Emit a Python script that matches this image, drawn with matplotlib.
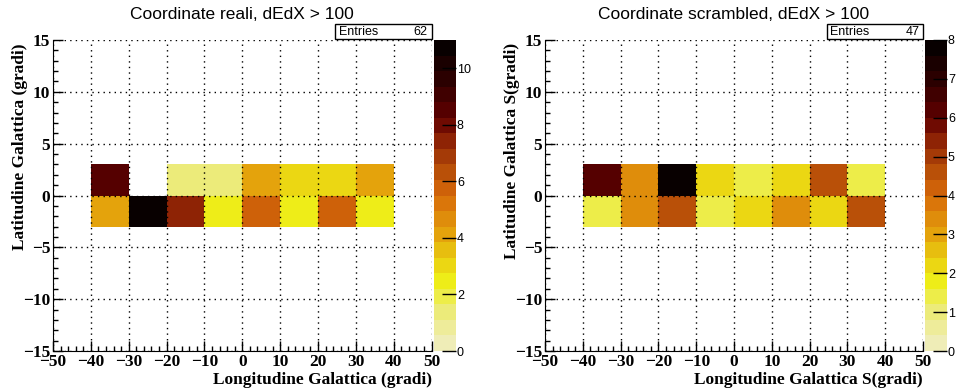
import matplotlib
matplotlib.use("Agg")
import matplotlib.pyplot as plt
import numpy as np
from matplotlib.colors import LinearSegmentedColormap, ListedColormap, BoundaryNorm
from matplotlib.ticker import MultipleLocator

LON_EDGES = [-40, -30, -20, -10, 0, 10, 20, 30, 40]
LAT_EDGES = [-3, 0, 3]

REAL_LOWER = [4.2, 11.0, 7.5, 2.4, 5.6, 2.4, 5.6, 2.4]
REAL_UPPER = [8.3, 0.0, 1.3, 1.3, 4.2, 3.2, 3.2, 4.2]
SCR_LOWER = [1.45, 3.2, 4.7, 1.45, 2.3, 3.2, 2.3, 4.7]
SCR_UPPER = [6.3, 3.2, 8.0, 2.3, 1.45, 2.3, 4.7, 1.45]

TITLES = ["Coordinate reali, dEdX > 100", "Coordinate scrambled, dEdX > 100"]
XLABELS = ["Longitudine Galattica (gradi)", "Longitudine Galattica S(gradi)"]
YLABELS = ["Latitudine Galattica (gradi)", "Latitudine Galattica S(gradi)"]
ENTRIES = [62, 47]
ZMAX = [11, 8]
ZTICKS = [[0, 2, 4, 6, 8, 10], [0, 1, 2, 3, 4, 5, 6, 7, 8]]

# palette sampled from the reference colour bars (light -> black)
PALETTE_STOPS = [
    (0.0, "#f0eec4"), (0.12, "#eceb80"), (0.22, "#eeee18"), (0.30, "#e9cc10"),
    (0.375, "#e4a40c"), (0.5, "#d86a0a"), (0.6, "#b04808"), (0.68, "#8c2005"),
    (0.75, "#600000"), (0.875, "#2c0000"), (1.0, "#000000"),
]
N_LEVELS = 20

SERIF = ["Liberation Serif", "DejaVu Serif"]
SANS = ["Liberation Sans", "DejaVu Sans"]


def make_cmap():
    smooth = LinearSegmentedColormap.from_list("body", PALETTE_STOPS)
    return ListedColormap([smooth((i + 0.5) / N_LEVELS) for i in range(N_LEVELS)])


def draw_panel(fig, ax, cax, lower, upper, idx, cmap):
    counts = np.ma.masked_equal(np.array([lower, upper], dtype=float), 0)
    levels = np.linspace(0, ZMAX[idx], N_LEVELS + 1)
    norm = BoundaryNorm(levels, N_LEVELS, clip=True)
    mesh = ax.pcolormesh(LON_EDGES, LAT_EDGES, counts, cmap=cmap, norm=norm)

    ax.set_xlim(-50, 50)
    ax.set_ylim(-15, 15)
    ax.xaxis.set_major_locator(MultipleLocator(10))
    ax.xaxis.set_minor_locator(MultipleLocator(2))
    ax.yaxis.set_major_locator(MultipleLocator(5))
    ax.yaxis.set_minor_locator(MultipleLocator(1))
    ax.grid(True, which="major", color="black", linestyle=(0, (1, 3)), linewidth=1.0)
    ax.set_axisbelow(False)
    for side in ("top", "right"):
        ax.spines[side].set_visible(False)
    ax.tick_params(which="both", direction="in", top=False, right=False, width=1)
    ax.tick_params(which="major", length=7, pad=2)
    ax.tick_params(which="minor", length=3.5)
    for lab in ax.get_xticklabels() + ax.get_yticklabels():
        lab.set_fontfamily(SERIF)
        lab.set_fontweight("bold")
        lab.set_fontsize(12.5)

    ax.set_xlabel(XLABELS[idx], loc="right", fontfamily=SERIF, fontweight="bold", fontsize=12.5)
    ax.xaxis.set_label_coords(1.0, -0.066)
    ax.set_ylabel(YLABELS[idx], loc="top", fontfamily=SERIF, fontweight="bold", fontsize=12.5)
    ax.yaxis.set_label_coords(-0.067, 0.99)

    ax.set_title(TITLES[idx], fontfamily=SANS, fontsize=12.5, pad=15)

    # ROOT-style stats box
    ax.text(0.755, 1.005, "Entries", transform=ax.transAxes, fontfamily=SANS, fontsize=9,
            ha="left", va="bottom")
    ax.text(0.99, 1.005, str(ENTRIES[idx]), transform=ax.transAxes, fontfamily=SANS,
            fontsize=9, ha="right", va="bottom")
    box = plt.Rectangle((0.745, 1.003), 0.255, 0.048, transform=ax.transAxes,
                        fill=False, edgecolor="black", linewidth=1.0, clip_on=False)
    ax.add_patch(box)

    cb = fig.colorbar(mesh, cax=cax, ticks=ZTICKS[idx])
    cb.outline.set_visible(False)
    cax.tick_params(direction="in", length=10, width=1, pad=1, labelsize=9)
    for lab in cax.get_yticklabels():
        lab.set_fontfamily(SANS)
    cax.yaxis.set_minor_locator(plt.NullLocator())


def main():
    cmap = make_cmap()
    fig = plt.figure(figsize=(9.57, 3.91), dpi=100)
    ax1 = fig.add_axes([0.0554, 0.1023, 0.3955, 0.7954])
    cax1 = fig.add_axes([0.4535, 0.1023, 0.0225, 0.7954])
    ax2 = fig.add_axes([0.5695, 0.1023, 0.395, 0.7954])
    cax2 = fig.add_axes([0.9666, 0.1023, 0.0225, 0.7954])

    draw_panel(fig, ax1, cax1, REAL_LOWER, REAL_UPPER, 0, cmap)
    draw_panel(fig, ax2, cax2, SCR_LOWER, SCR_UPPER, 1, cmap)

    fig.savefig("out.png", dpi=100)


if __name__ == "__main__":
    main()
